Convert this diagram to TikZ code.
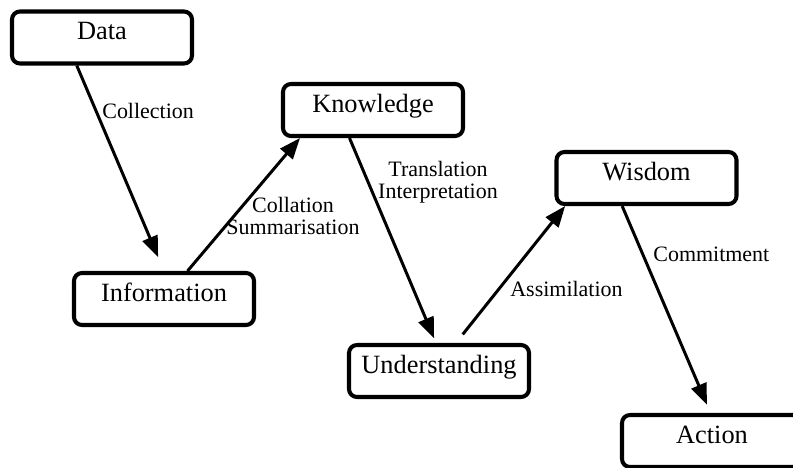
\documentclass[tikz,border=0pt]{standalone}
\usepackage{fontspec}
\setmainfont{Liberation Serif}
\usetikzlibrary{arrows.meta}

\begin{document}
\begin{tikzpicture}[
  stage/.style={draw,line width=2.3pt,rounded corners=0.16cm,inner sep=0pt,
    minimum width=3.6cm,text height=0.56cm,text depth=0.48cm,
    font=\fontsize{15}{15}\selectfont},
  lbl/.style={inner sep=0pt,font=\fontsize{12.5}{12.5}\selectfont},
  flow/.style={line width=1.7pt,-{Triangle[length=0.42cm,width=0.32cm]}}]
\useasboundingbox (0,0) rectangle (15.86,9.34);
\foreach \name/\x/\y/\txt in {data/2.04/8.59/Data,info/3.28/3.36/Information,
    know/7.46/7.14/Knowledge,und/8.78/1.92/Understanding,
    wis/12.93/5.78/Wisdom,act/14.24/0.52/Action}{
  \node[stage] (\name) at (\x,\y) {\txt};
}
\draw[flow,shorten >=0.3cm] (data.228) -- (info.north);
\draw[flow] (info.50) -- (know.201);
\draw[flow,shorten >=0.1cm] (know.230) -- (und.96);
\draw[flow,shorten <=0.22cm] (und.59) -- (wis.199);
\draw[flow,shorten >=0.18cm] (wis.229) -- (act.93);
% labels on the arrows
\node[lbl,anchor=base west] (collect) at (2.04,6.98) {Collection};
\node[lbl,align=center] (collate) at (5.86,5.03) {Collation\\Summarisation};
\node[lbl,align=center] (translate) at (8.76,5.69) {Translation\\Interpretation};
\node[lbl,anchor=base west] (assim) at (10.20,3.42) {Assimilation};
\node[lbl,anchor=base west] (commit) at (13.06,4.12) {Commitment};
\end{tikzpicture}
\end{document}
